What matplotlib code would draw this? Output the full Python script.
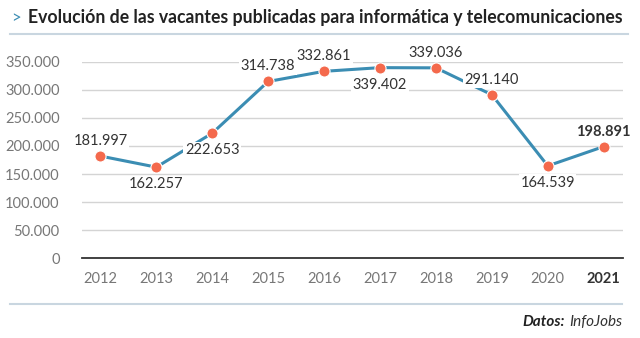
import numpy as np
import matplotlib.pyplot as plt

# Data
years = [2012, 2013, 2014, 2015, 2016, 2017, 2018, 2019, 2020, 2021]
vacantes = [181997, 162257, 222653, 314738, 332861, 339402, 339036, 291140, 164539, 198891]
label_pos = ['above', 'below', 'below', 'above', 'above', 'below', 'above', 'above', 'below', 'above']
y_ticks = [0, 50000, 100000, 150000, 200000, 250000, 300000, 350000]

plt.rcParams['font.family'] = ['Lato', 'DejaVu Sans']

LINE_COLOR = '#3b8db3'
DOT_COLOR = '#f4694c'

fig = plt.figure(figsize=(6.4, 3.38), dpi=100)
ax = fig.add_axes([0.128, 0.2358, 0.845, 0.5817])

ax.plot(years, vacantes, color=LINE_COLOR, lw=2.2, zorder=3,
        marker='o', markersize=8, markerfacecolor=DOT_COLOR,
        markeredgecolor='white', markeredgewidth=0.8)

for i, (x, v) in enumerate(zip(years, vacantes)):
    txt = f'{v:,}'.replace(',', '.')
    last = i == len(years) - 1
    dy = 15 if label_pos[i] == 'above' else -17
    ax.annotate(txt, (x, v), xytext=(0, dy * 0.72), textcoords='offset points',
                ha='center', va='center', fontsize=10.5,
                color='#333333', fontweight='bold' if last else 'normal',
                bbox=dict(boxstyle='square,pad=0.1', fc='white', ec='none'),
                zorder=4, annotation_clip=False)

ax.set_xlim(2011.67, 2021.34)
ax.set_ylim(0, 350000)
ax.set_yticks(y_ticks)
ax.set_yticklabels([f'{t:,}'.replace(',', '.') for t in y_ticks])
ax.set_xticks(years)
ax.set_xticklabels([str(y) for y in years])

ax.grid(axis='y', color='#d4d4d4', lw=1)
ax.set_axisbelow(True)
for s in ['top', 'right', 'left']:
    ax.spines[s].set_visible(False)
ax.spines['bottom'].set_color('#333333')
ax.spines['bottom'].set_linewidth(1.3)
ax.tick_params(length=0, labelsize=10.5, labelcolor='#777777')
ax.tick_params(axis='x', pad=10)
ax.tick_params(axis='y', pad=16)
ax.get_xticklabels()[-1].set_fontweight('bold')
ax.get_xticklabels()[-1].set_color('#333333')

# Title and separators
fig.text(0.018, 0.948, '>', fontsize=12, color='#3b8db3', ha='left', va='center')
fig.text(0.044, 0.948, 'Evolución de las vacantes publicadas para informática y telecomunicaciones',
         fontsize=12.7, fontweight='bold', color='#222222', ha='left', va='center')
fig.add_artist(plt.Line2D([0.016, 0.982], [0.899, 0.899], color='#c9d6e0', lw=1.5))
fig.add_artist(plt.Line2D([0.016, 0.972], [0.101, 0.101], color='#c9d6e0', lw=1.5))

# source line: "Datos:" placed just left of "InfoJobs"
src = fig.text(0.972, 0.047, 'InfoJobs', fontsize=11, fontstyle='italic',
               color='#333333', ha='right', va='center')
fig.canvas.draw()
bb = src.get_window_extent().transformed(fig.transFigure.inverted())
fig.text(bb.x0 - 0.006, 0.047, 'Datos:', fontsize=11, fontweight='bold', fontstyle='italic',
         color='#222222', ha='right', va='center')

fig.savefig('out.png', dpi=100)
